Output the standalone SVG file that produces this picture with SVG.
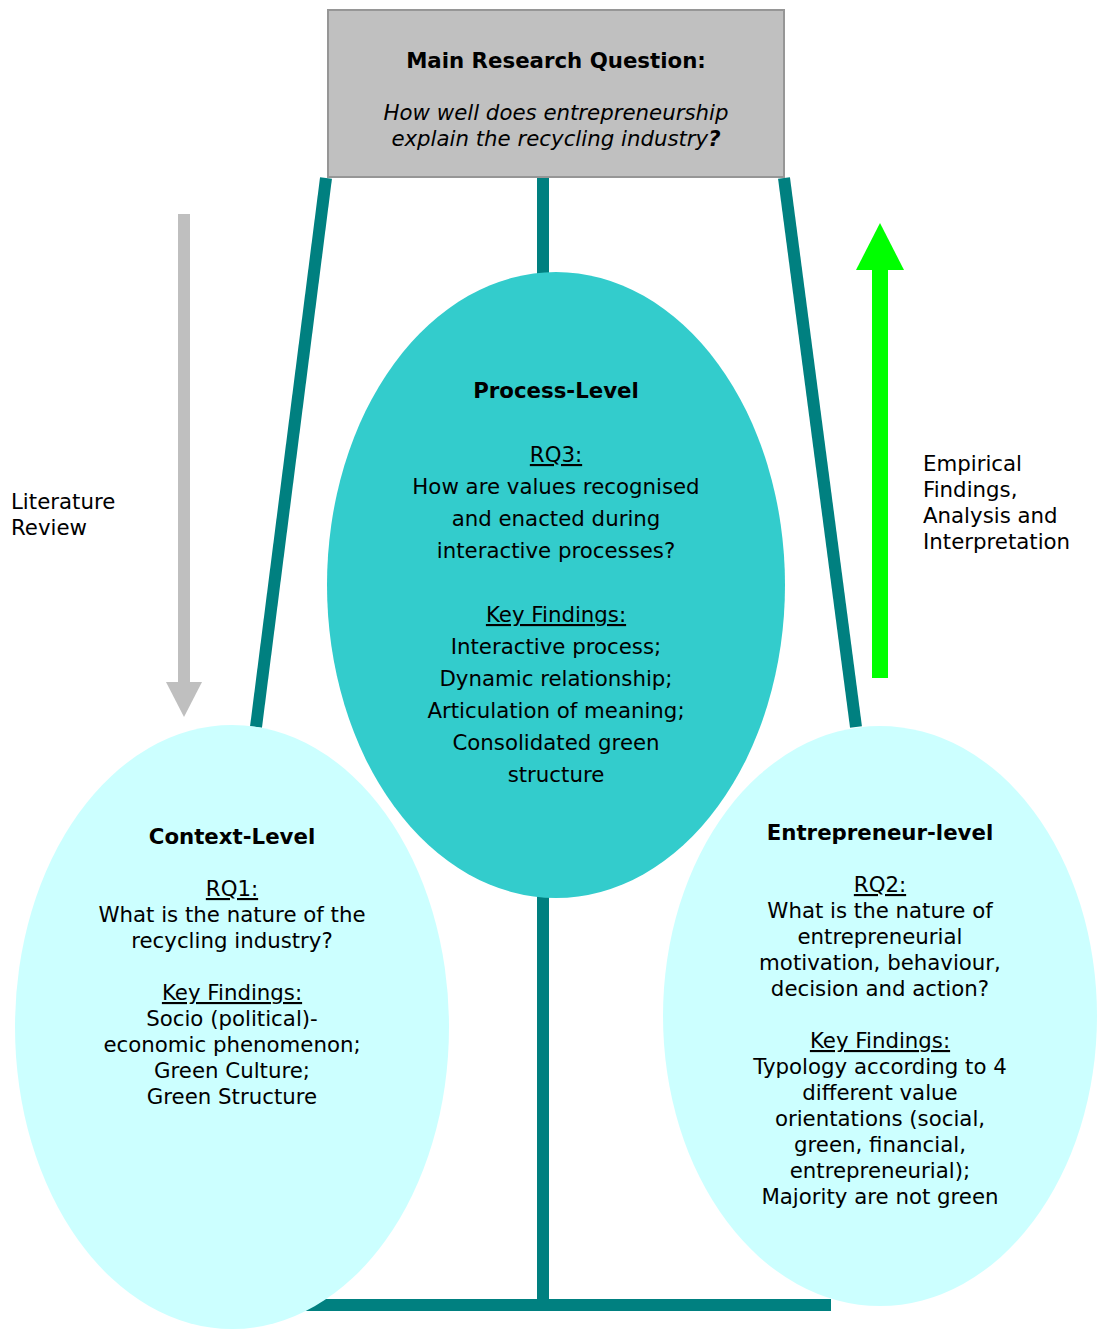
<svg xmlns="http://www.w3.org/2000/svg" width="1099" height="1329" viewBox="0 0 1099 1329">
  <style>
    text { font-family: "DejaVu Sans", Verdana, sans-serif; font-size: 21.3px; fill: #000; }
    .c { text-anchor: middle; }
    .b { font-weight: bold; }
    .u { text-decoration: underline; }
    .i { font-style: italic; }
    .teal { stroke: #008080; stroke-width: 12; fill: none; }
  </style>

  <!-- connectors -->
  <g id="connectors">
    <line class="teal" x1="326" y1="178" x2="256" y2="727"/>
    <line class="teal" x1="784" y1="178" x2="856" y2="727"/>
    <line class="teal" x1="543" y1="178" x2="543" y2="1300"/>
    <line class="teal" x1="240" y1="1305" x2="831" y2="1305"/>
  </g>

  <!-- direction arrows -->
  <g id="literature-arrow">
    <rect x="178" y="214" width="12" height="469" fill="#BFBFBF"/>
    <polygon points="166,682 202,682 184,717" fill="#BFBFBF"/>
  </g>
  <g id="empirical-arrow">
    <rect x="872" y="268" width="16" height="410" fill="#00FF00"/>
    <polygon points="856,270 904,270 880,223" fill="#00FF00"/>
  </g>

  <g id="main-question">
    <rect x="328" y="10" width="456" height="167" fill="#C0C0C0" stroke="#969696" stroke-width="2"/>
    <text class="c b" x="556" y="68">Main Research Question:</text>
    <text class="c i" x="556" y="120">How well does entrepreneurship</text>
    <text class="c i" x="556" y="146">explain the recycling industry<tspan class="b">?</tspan></text>
  </g>

  <g id="process-level">
    <ellipse cx="556" cy="585" rx="229" ry="313" fill="#33CCCC"/>
    <text class="c b" x="556" y="398">Process-Level</text>
    <text class="c u" x="556" y="462">RQ3:</text>
    <text class="c" x="556" y="494">How are values recognised</text>
    <text class="c" x="556" y="526">and enacted during</text>
    <text class="c" x="556" y="558">interactive processes?</text>
    <text class="c u" x="556" y="622">Key Findings:</text>
    <text class="c" x="556" y="654">Interactive process;</text>
    <text class="c" x="556" y="686">Dynamic relationship;</text>
    <text class="c" x="556" y="718">Articulation of meaning;</text>
    <text class="c" x="556" y="750">Consolidated green</text>
    <text class="c" x="556" y="782">structure</text>
  </g>

  <g id="context-level">
    <ellipse cx="232" cy="1027" rx="217" ry="302" fill="#CCFFFF"/>
    <text class="c b" x="232" y="844">Context-Level</text>
    <text class="c u" x="232" y="896">RQ1:</text>
    <text class="c" x="232" y="922">What is the nature of the</text>
    <text class="c" x="232" y="948">recycling industry?</text>
    <text class="c u" x="232" y="1000">Key Findings:</text>
    <text class="c" x="232" y="1026">Socio (political)-</text>
    <text class="c" x="232" y="1052">economic phenomenon;</text>
    <text class="c" x="232" y="1078">Green Culture;</text>
    <text class="c" x="232" y="1104">Green Structure</text>
  </g>

  <g id="entrepreneur-level">
    <ellipse cx="880" cy="1016" rx="217" ry="290" fill="#CCFFFF"/>
    <text class="c b" x="880" y="840">Entrepreneur-level</text>
    <text class="c u" x="880" y="892">RQ2:</text>
    <text class="c" x="880" y="918">What is the nature of</text>
    <text class="c" x="880" y="944">entrepreneurial</text>
    <text class="c" x="880" y="970">motivation, behaviour,</text>
    <text class="c" x="880" y="996">decision and action?</text>
    <text class="c u" x="880" y="1048">Key Findings:</text>
    <text class="c" x="880" y="1074">Typology according to 4</text>
    <text class="c" x="880" y="1100">different value</text>
    <text class="c" x="880" y="1126">orientations (social,</text>
    <text class="c" x="880" y="1152">green, financial,</text>
    <text class="c" x="880" y="1178">entrepreneurial);</text>
    <text class="c" x="880" y="1204">Majority are not green</text>
  </g>

  <g id="literature-label">
    <text x="11" y="509">Literature</text>
    <text x="11" y="535">Review</text>
  </g>

  <g id="empirical-label">
    <text x="923" y="471">Empirical</text>
    <text x="923" y="497">Findings,</text>
    <text x="923" y="523">Analysis and</text>
    <text x="923" y="549">Interpretation</text>
  </g>
</svg>
